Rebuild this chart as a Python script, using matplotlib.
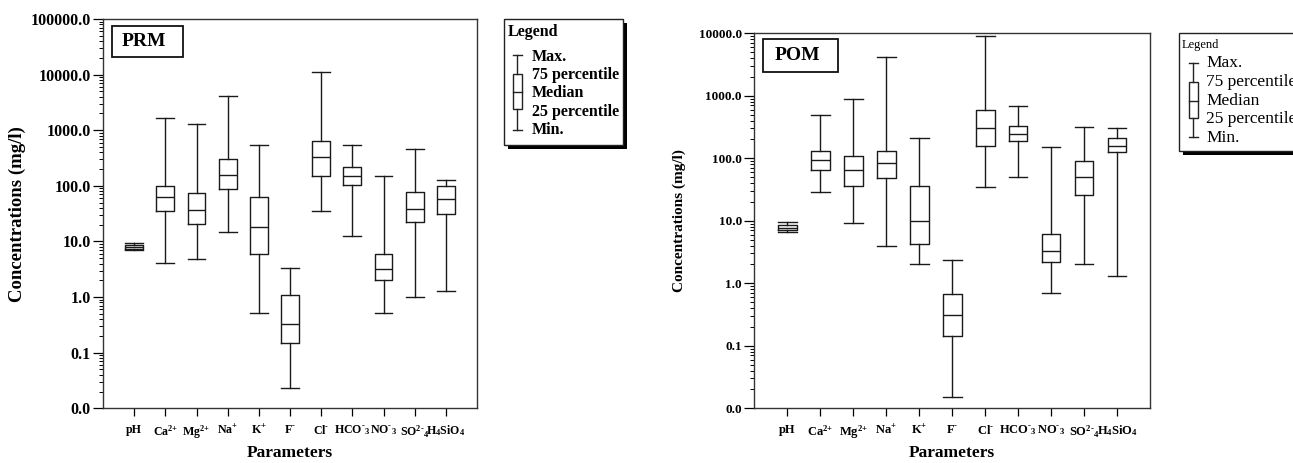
import matplotlib
matplotlib.use('Agg')
import matplotlib.pyplot as plt
from matplotlib.patches import Rectangle
from matplotlib.lines import Line2D
import matplotlib.ticker as mticker

plt.rcParams['font.family'] = ['Liberation Serif', 'DejaVu Serif']
plt.rcParams['mathtext.fontset'] = 'custom'
plt.rcParams['mathtext.rm'] = 'Liberation Serif:bold'
plt.rcParams['mathtext.it'] = 'Liberation Serif:bold:italic'
plt.rcParams['mathtext.bf'] = 'Liberation Serif:bold'

# ---------------- data ----------------
params = ['pH', 'Ca$^{2{+}}$', 'Mg$^{2}$$^{{+}}$', 'Na$^{{+}}$', 'K$^{{+}}$', 'F$^{\\text{-}}$',
          'Cl$^{\\text{-}}$', 'HCO$^{\\text{-}}{}_{3}$', 'NO$^{\\text{-}}{}_{3}$',
          'SO$^{2\\text{-}}{}_{4}$', 'H$_{4}$SiO$_{4}$']

prm_min = [7.0, 4.1, 4.9, 14.8, 0.52, 0.023, 36, 12.5, 0.52, 1.0, 1.26]
prm_q1 = [7.4, 35, 20.6, 87.5, 6.0, 0.149, 152, 105, 2.05, 22, 31.5]
prm_med = [8.0, 64, 37, 158, 18.2, 0.33, 330, 152, 3.2, 38.7, 58.6]
prm_q3 = [8.7, 101, 73, 303, 64, 1.1, 648, 214, 5.9, 76, 97.5]
prm_max = [9.3, 1660, 1290, 4050, 533, 3.4, 11270, 548, 152, 465, 127]

pom_min = [6.7, 29, 9.1, 4.0, 2.0, 0.015, 35, 50, 0.71, 2.0, 1.31]
pom_q1 = [7.0, 64, 36, 48, 4.2, 0.144, 157, 187, 2.2, 26, 128]
pom_med = [7.7, 93, 64, 83, 10, 0.31, 305, 248, 3.3, 50, 157]
pom_q3 = [8.6, 132, 109, 132, 36, 0.67, 586, 333, 6.1, 90, 209]
pom_max = [9.5, 493, 889, 4230, 214, 2.4, 9060, 687, 150, 313, 302]

legend_items = ['Max.', '75 percentile', 'Median', '25 percentile', 'Min.']

W, H = 1293, 463
fig = plt.figure(figsize=(W / 100, H / 100), dpi=100)


def fx(px):
    return px / W


def fy(py):
    return 1 - py / H


def make_stats(mn, q1, med, q3, mx):
    return [dict(whislo=a, q1=b, med=c, q3=d, whishi=e, fliers=[])
            for a, b, c, d, e in zip(mn, q1, med, q3, mx)]


def draw_panel(rect, stats, ymax, ytick_fs, xtick_fs, ylab_fs, ylab_x, xlab_y,
               name, name_box, name_fs):
    ax = fig.add_axes(rect)
    ax.set_yscale('log')
    pos = list(range(len(stats)))
    lp = dict(color='#1a1a1a', linewidth=1.0)
    ax.bxp(stats, positions=pos, widths=0.57, showfliers=False,
           boxprops=lp, whiskerprops=lp, capprops=lp,
           medianprops=dict(color='#1a1a1a', linewidth=1.0),
           capwidths=0.57)
    ax.set_xlim(-1, 11)
    ax.set_ylim(0.01, ymax)
    ax.set_xticks(pos)
    ax.set_xticklabels(params, fontsize=xtick_fs, fontweight='bold')
    ax.yaxis.set_major_locator(mticker.LogLocator(base=10, numticks=20))
    ax.yaxis.set_minor_locator(mticker.LogLocator(base=10, subs=range(2, 10), numticks=20))
    ax.yaxis.set_major_formatter(mticker.FuncFormatter(lambda v, p: f'{v:.1f}'))
    ax.yaxis.set_minor_formatter(mticker.NullFormatter())
    ax.tick_params(axis='y', which='major', direction='out', length=7, width=0.9,
                   labelsize=ytick_fs, pad=2)
    ax.tick_params(axis='y', which='minor', direction='out', length=3, width=0.7)
    ax.tick_params(axis='x', direction='out', length=6, width=0.9, pad=5)
    for lab in ax.get_yticklabels():
        lab.set_fontweight('bold')
    for s in ax.spines.values():
        s.set_color('#333333')
        s.set_linewidth(1.0)
    ax.set_ylabel('Concentrations (mg/l)', fontsize=ylab_fs, fontweight='bold')
    ax.yaxis.set_label_coords(ylab_x, 0.5)
    ax.set_xlabel('Parameters', fontsize=12.5, fontweight='bold')
    ax.xaxis.set_label_coords(0.5, xlab_y)
    # name box
    x0, y0, x1, y1 = name_box
    fig.add_artist(Rectangle((fx(x0), fy(y1)), fx(x1) - fx(x0), fy(y0) - fy(y1),
                             transform=fig.transFigure, fill=False,
                             edgecolor='#111111', linewidth=1.3))
    fig.text(fx((x0 + x1) / 2 - 3), fy((y0 + y1) / 2), name, fontsize=name_fs,
             fontweight='bold', ha='center', va='center')
    return ax


def draw_legend(box, title, title_xy, title_fs, weight, text_x, text_ys, text_fs,
                glyph_x, glyph_half, cap_top, box_top, med_y, box_bot, cap_bot):
    x0, y0, x1, y1 = box
    fig.add_artist(Rectangle((fx(x0 + 4), fy(y1 + 4)), fx(x1) - fx(x0), fy(y0) - fy(y1),
                             transform=fig.transFigure, facecolor='black',
                             edgecolor='black', linewidth=0, zorder=1))
    fig.add_artist(Rectangle((fx(x0), fy(y1)), fx(x1) - fx(x0), fy(y0) - fy(y1),
                             transform=fig.transFigure, facecolor='white',
                             edgecolor='#222222', linewidth=1.0, zorder=2))
    fig.text(fx(title_xy[0]), fy(title_xy[1]), title, fontsize=title_fs,
             fontweight=weight, ha='left', va='center', zorder=3)
    for t, yy in zip(legend_items, text_ys):
        fig.text(fx(text_x), fy(yy), t, fontsize=text_fs, fontweight=weight,
                 ha='left', va='center', zorder=3)
    kw = dict(transform=fig.transFigure, color='#222222', linewidth=1.0, zorder=3)
    gx = glyph_x
    fig.add_artist(Line2D([fx(gx), fx(gx)], [fy(cap_top), fy(box_top)], **kw))
    fig.add_artist(Line2D([fx(gx), fx(gx)], [fy(box_bot), fy(cap_bot)], **kw))
    fig.add_artist(Line2D([fx(gx - glyph_half), fx(gx + glyph_half)], [fy(cap_top)] * 2, **kw))
    fig.add_artist(Line2D([fx(gx - glyph_half), fx(gx + glyph_half)], [fy(cap_bot)] * 2, **kw))
    fig.add_artist(Line2D([fx(gx - glyph_half), fx(gx + glyph_half)], [fy(med_y)] * 2, **kw))
    fig.add_artist(Rectangle((fx(gx - glyph_half), fy(box_bot)), fx(2 * glyph_half),
                             fy(box_top) - fy(box_bot), transform=fig.transFigure,
                             fill=False, edgecolor='#222222', linewidth=1.0, zorder=3))


prm = make_stats(prm_min, prm_q1, prm_med, prm_q3, prm_max)
pom = make_stats(pom_min, pom_q1, pom_med, pom_q3, pom_max)

draw_panel([fx(103), fy(408.3), fx(374), (408.3 - 19) / H], prm, 1e5, 11.5, 8.6, 13.5,
           (26 - 103) / 374, -0.095, 'PRM', (111.7, 25.7, 182.7, 57.3), 14)
draw_panel([fx(754.3), fy(408.3), fx(395.7), (408.3 - 33.3) / H], pom, 1e4, 9.5, 9.0, 11,
           (686 - 754.3) / 395.7, -0.099, 'POM', (763.3, 39.3, 837.7, 71.7), 14)

draw_legend((504.3, 19, 622.7, 145), 'Legend', (508, 32), 11.5, 'bold', 531.5,
            [56.7, 75, 92.7, 111.7, 130], 11.5,
            517, 4.5, 55, 74.3, 92.3, 109.3, 130)
draw_legend((1179, 33.3, 1310, 150.7), 'Legend', (1182, 45), 9, 'normal', 1206.5,
            [63.3, 81.7, 101, 119.3, 138.3], 12.5,
            1193.3, 4.2, 63.3, 82.3, 100.7, 118.3, 136.7)

fig.savefig('out.png', dpi=100)
